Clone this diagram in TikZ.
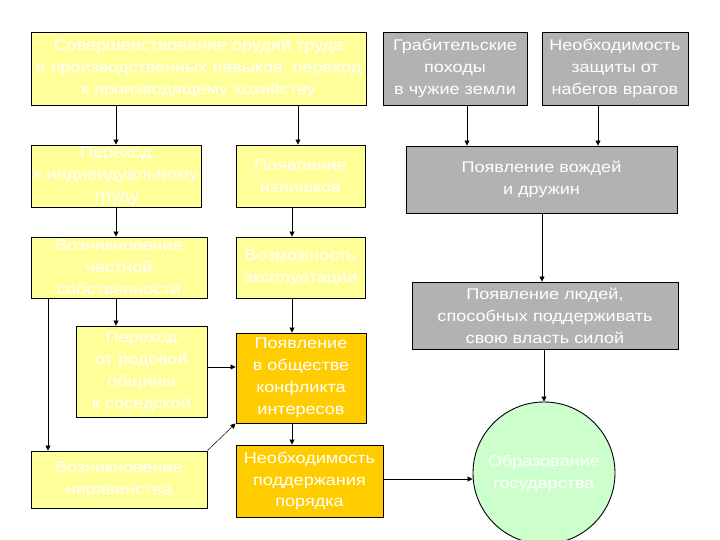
\documentclass[tikz,border=0pt]{standalone}
\usepackage{fontspec}
\setmainfont{Liberation Sans}[FakeStretch=1.17]
\usetikzlibrary{arrows.meta,calc}
\definecolor{ylw}{HTML}{FFFF99}
\definecolor{org}{HTML}{FFCC00}
\definecolor{gry}{HTML}{B2B2B2}
\definecolor{grn}{HTML}{CCFFCC}
\tikzset{
  box/.style={draw=black, line width=0.9bp, align=center, text=white, inner sep=0pt,
    font=\fontsize{15.5}{22}\selectfont},
  ybox/.style={box, fill=ylw},
  obox/.style={box, fill=org},
  gbox/.style={box, fill=gry},
  arr/.style={draw=black, line width=0.8bp, -{Triangle[length=5bp,width=5bp]}}
}
\begin{document}
\begin{tikzpicture}[x=1bp,y=-1bp]
\useasboundingbox[fill=white] (0,0) rectangle (720,540);
\node[ybox, minimum width=335bp, minimum height=73bp] (top) at (198.5,68.5)
  {Совершенствование орудий труда\\и производственных навыков, переход\\к производящему хозяйству};
\node[gbox, minimum width=144bp, minimum height=73bp] (grab) at (455,68.5)
  {Грабительские\\походы\\в чужие земли};
\node[gbox, minimum width=146bp, minimum height=73bp] (need) at (615,68.5)
  {Необходимость\\защиты от\\набегов врагов};
\node[ybox, minimum width=170bp, minimum height=62bp] (p1) at (116,176)
  {Переход\\к индивидуальному\\труду};
\node[ybox, minimum width=129bp, minimum height=62bp] (p2) at (300.5,176)
  {Появление\\излишков};
\node[gbox, minimum width=271bp, minimum height=67bp] (vozh) at (541.5,179.5)
  {Появление вождей\\и дружин};
\node[ybox, minimum width=176bp, minimum height=61bp] (chast) at (119,267.5)
  {Возникновение\\частной\\собственности};
\node[ybox, minimum width=129bp, minimum height=61bp] (expl) at (300.5,267.5)
  {Возможность\\эксплуатации};
\node[gbox, minimum width=266bp, minimum height=67bp] (lyudi) at (545,315.5)
  {Появление людей,\\способных поддерживать\\свою власть силой};
\node[ybox, minimum width=131bp, minimum height=91bp] (rod) at (141.5,371.5)
  {Переход\\от родовой\\общины\\к соседской};
\node[obox, minimum width=130bp, minimum height=90bp] (konf) at (301,378)
  {Появление\\в обществе\\конфликта\\интересов};
\node[obox, minimum width=147bp, minimum height=72bp] (por) at (309.5,481)
  {Необходимость\\поддержания\\порядка};
\node[ybox, minimum width=176bp, minimum height=57bp] (nerav) at (119,479.5)
  {Возникновение\\неравенства};
\node[box, circle, fill=grn, minimum size=142bp] (gos) at (544,473)
  {Образование\\государства};
% connectors
\draw[arr] (top.south -| p1.north) -- (p1.north);
\draw[arr] (top.south -| 298,0) -- (p2.north -| 298,0);
\draw[arr] (grab.south -| 467,0) -- (vozh.north -| 467,0);
\draw[arr] (need.south -| 598,0) -- (vozh.north -| 598,0);
\draw[arr] (vozh.south -| 542,0) -- (lyudi.north -| 542,0);
\draw[arr] (lyudi.south -| gos.north) -- (gos.north);
\draw[arr] (p1.south) -- (chast.north -| p1.south);
\draw[arr] (p2.south -| 292,0) -- (expl.north -| 292,0);
\draw[arr] (chast.south -| 116,0) -- (rod.north -| 116,0);
\draw[arr] (chast.south -| 48,0) -- (nerav.north -| 48,0);
\draw[arr] (expl.south -| 292,0) -- (konf.north -| 292,0);
\draw[arr] (rod.east |- 0,367) -- (konf.west |- 0,367);
\draw[arr, line width=0.5bp] (nerav.north east) -- (konf.south west);
\draw[arr] (konf.south -| 292,0) -- (por.north -| 292,0);
\draw[arr] (por.east |- 0,479) -- (gos.west |- 0,479);
\end{tikzpicture}
\end{document}
